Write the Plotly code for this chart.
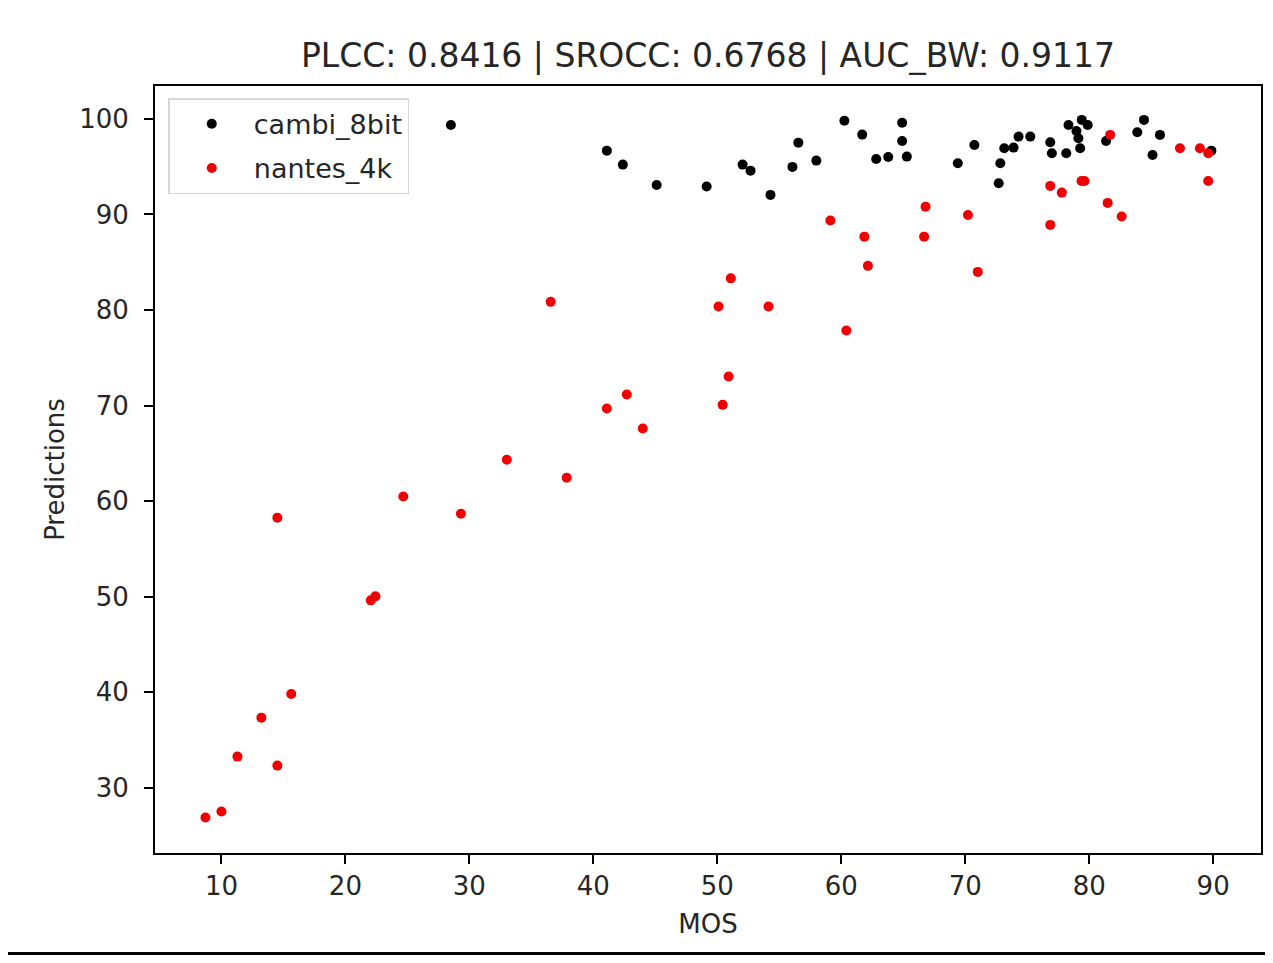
"""MOS vs predictions scatter (cambi_8bit / nantes_4k)."""

import plotly.graph_objects as go

# cambi_8bit
cambi_mos = [
    28.51, 41.09, 42.38, 45.11, 49.14, 52.04, 52.68, 54.29, 56.06, 56.54,
    57.99, 60.25, 61.69, 62.82, 63.79, 64.91, 64.91, 65.29, 69.40, 70.74,
    72.70, 72.83, 73.15, 73.90, 74.30, 75.25, 76.86, 76.99, 78.15, 78.33,
    79.40, 79.88, 79.13, 79.27, 78.97, 81.36, 83.88, 84.42, 85.71, 85.11,
    89.86,
]
cambi_pred = [
    99.37, 96.68, 95.22, 93.09, 92.92, 95.22, 94.59, 92.05, 94.98, 97.52,
    95.64, 99.82, 98.36, 95.81, 96.02, 99.61, 97.70, 96.06, 95.36, 97.28,
    93.27, 95.36, 96.93, 97.00, 98.15, 98.15, 97.56, 96.41, 96.41, 99.37,
    99.90, 99.37, 97.98, 96.93, 98.74, 97.70, 98.61, 99.90, 98.33, 96.23,
    96.68,
]

# nantes_4k
nantes_mos = [
    8.71, 10.00, 11.29, 13.22, 14.51, 14.51, 15.63, 22.05, 22.42, 24.67,
    29.32, 33.02, 36.56, 37.85, 41.09, 42.70, 43.99, 50.10, 50.43, 50.91,
    51.09, 54.13, 59.12, 60.41, 61.86, 62.15, 66.68, 66.80, 70.22, 71.01,
    76.86, 76.86, 77.79, 79.38, 79.62, 81.49, 81.69, 82.62, 87.32, 88.93,
    89.60, 89.60,
]
nantes_pred = [
    26.86, 27.49, 33.24, 37.32, 32.30, 58.25, 39.79, 49.60, 50.02, 60.48,
    58.67, 64.32, 80.85, 62.44, 69.69, 71.15, 67.59, 80.36, 70.07, 73.04,
    83.31, 80.36, 89.36, 77.85, 87.68, 84.62, 87.68, 90.82, 89.95, 83.99,
    92.99, 88.91, 92.29, 93.51, 93.51, 91.21, 98.33, 89.78, 96.93, 96.93,
    96.41, 93.51,
]

x_ticks = [10, 20, 30, 40, 50, 60, 70, 80, 90]
y_ticks = [30, 40, 50, 60, 70, 80, 90, 100]
title = "PLCC: 0.8416 | SROCC: 0.6768 | AUC_BW: 0.9117"

FONT = "DejaVu Sans"
TXT = "#262626"

# page body has an 8px margin, so the figure is sized to fit inside the window
W, H = 1257, 947

fig = go.Figure()
fig.add_trace(go.Scatter(
    x=cambi_mos, y=cambi_pred, mode="markers", name="cambi_8bit", legendgroup="a",
    marker=dict(color="black", size=10),
))
fig.add_trace(go.Scatter(
    x=nantes_mos, y=nantes_pred, mode="markers", name="nantes_4k", legendgroup="b",
    marker=dict(color="#f00000", size=10),
))

axis_common = dict(
    showline=True, mirror=True, linecolor="black", linewidth=2,
    showgrid=False, zeroline=False,
    ticks="outside", ticklen=9, tickwidth=2, tickcolor="black",
    tickfont=dict(family=FONT, size=26, color=TXT),
    title_font=dict(family=FONT, size=26, color=TXT),
)

fig.update_xaxes(range=[4.64, 93.86], tickvals=x_ticks, title_text="MOS",
                 title_standoff=15, **axis_common)
fig.update_yaxes(range=[23.15, 103.45], tickvals=y_ticks, title_text="Predictions",
                 title_standoff=7, ticklabelstandoff=10, **axis_common)

fig.update_layout(
    width=W, height=H,
    margin=dict(l=147, r=2, t=78, b=102),
    paper_bgcolor="white", plot_bgcolor="white",
    title=dict(text=title, x=0.5, xref="paper", y=1 - 47 / H, yanchor="middle",
               font=dict(family=FONT, size=33, color=TXT)),
    legend=dict(x=0.012, y=0.984, xanchor="left", yanchor="top",
                bgcolor="rgba(255,255,255,0.8)", bordercolor="#d6d6d6", borderwidth=1.5,
                itemwidth=74, tracegroupgap=6,
                font=dict(family=FONT, size=27, color=TXT)),
    shapes=[dict(type="rect", xref="paper", yref="paper", x0=-0.2, x1=1.2,
                 y0=-(H - 78 - 767) / 767, y1=-(H - 78 - 767 - 3) / 767,
                 fillcolor="black", line_width=0, layer="above")],
)

fig.write_html("out.html")
